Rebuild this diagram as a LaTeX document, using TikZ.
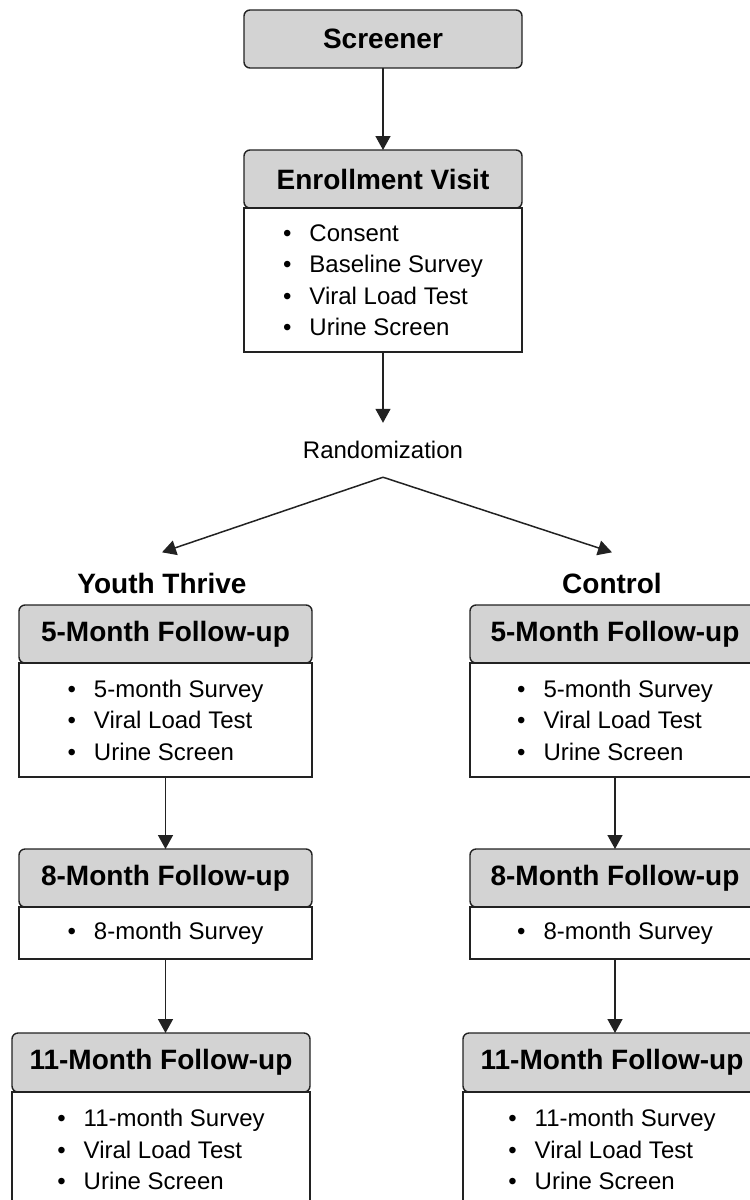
\documentclass[tikz,border=0pt]{standalone}
\usepackage{fontspec}
\setmainfont{Liberation Sans}
\usetikzlibrary{arrows.meta, positioning}

\definecolor{headgray}{HTML}{D3D3D3}
\definecolor{edgegray}{HTML}{222222}

\tikzset{
  head/.style={draw=edgegray, fill=headgray, rounded corners=3pt, line width=0.7pt,
    minimum height=29pt, inner sep=0pt, outer sep=0pt, font=\fontsize{14}{17}\selectfont\bfseries},
  body/.style={draw=edgegray, fill=white, line width=0.7pt, inner sep=0pt, outer sep=0pt,
    align=left, font=\fontsize{12}{15.75}\selectfont},
  armlabel/.style={inner xsep=2pt, inner ysep=10pt, font=\fontsize{14}{17}\selectfont\bfseries},
  flow/.style={draw=edgegray, line width=0.75pt, -{Triangle[width=7.5pt,length=7pt]}},
}
\newcommand{\itm}[1]{\textbullet\hspace{9pt}#1}

\begin{document}
\begin{tikzpicture}[x=0.5pt, y=-0.5pt]
  \useasboundingbox (0,0) rectangle (750,1200);
  \clip (0,0) rectangle (750,1200);

  % top of the flow
  \node[head, minimum width=139pt] (scr) at (383,39) {Screener};
  \node[head, minimum width=139pt] (hEn) at (383,179) {Enrollment Visit};
  \node[body, minimum width=139pt, minimum height=72pt, below=0pt of hEn] (bEn)
    {\itm{Consent}\\ \itm{Baseline Survey}\\ \itm{Viral Load Test}\\ \itm{Urine Screen}};
  \node[inner xsep=2pt, inner ysep=9pt, font=\fontsize{12}{15}\selectfont] (rand) at (383,450) {Randomization};

  % arm labels
  \node[armlabel] (youth) at (162,583) {Youth Thrive};
  \node[armlabel] (ctrl) at (612,583) {Control};

  % Youth Thrive arm
  \node[head, minimum width=146.5pt] (hL5) at (165.5,634) {5-Month Follow-up};
  \node[body, minimum width=146.5pt, minimum height=57pt, below=0pt of hL5] (bL5)
    {\itm{5-month Survey}\\ \itm{Viral Load Test}\\ \itm{Urine Screen}};
  \node[head, minimum width=146.5pt] (hL8) at (165.5,878) {8-Month Follow-up};
  \node[body, minimum width=146.5pt, minimum height=26pt, below=0pt of hL8] (bL8)
    {\itm{8-month Survey}};
  \node[head, minimum width=149pt, minimum height=29.5pt] (hL11) at (161,1062.5) {11-Month Follow-up};
  \node[body, minimum width=149pt, minimum height=57.5pt, below=0pt of hL11] (bL11)
    {\itm{11-month Survey}\\ \itm{Viral Load Test}\\ \itm{Urine Screen}};

  % Control arm
  \node[head, minimum width=145pt] (hR5) at (615,634) {5-Month Follow-up};
  \node[body, minimum width=145pt, minimum height=57pt, below=0pt of hR5] (bR5)
    {\itm{5-month Survey}\\ \itm{Viral Load Test}\\ \itm{Urine Screen}};
  \node[head, minimum width=145pt] (hR8) at (615,878) {8-Month Follow-up};
  \node[body, minimum width=145pt, minimum height=26pt, below=0pt of hR8] (bR8)
    {\itm{8-month Survey}};
  \node[head, minimum width=149pt, minimum height=29.5pt] (hR11) at (612,1062.5) {11-Month Follow-up};
  \node[body, minimum width=149pt, minimum height=57.5pt, below=0pt of hR11] (bR11)
    {\itm{11-month Survey}\\ \itm{Viral Load Test}\\ \itm{Urine Screen}};

  % connectors
  \draw[flow] (scr) -- (hEn);
  \draw[flow] (bEn) -- (rand);
  \draw[flow] (rand.south) -- (youth.north);
  \draw[flow] (rand.south) -- (ctrl.north);
  \draw[flow] (bL5) -- (hL8);
  \draw[flow] (bL8.south) -- (bL8.south |- hL11.north);
  \draw[flow] (bR5) -- (hR8);
  \draw[flow] (bR8.south) -- (bR8.south |- hR11.north);
\end{tikzpicture}
\end{document}
